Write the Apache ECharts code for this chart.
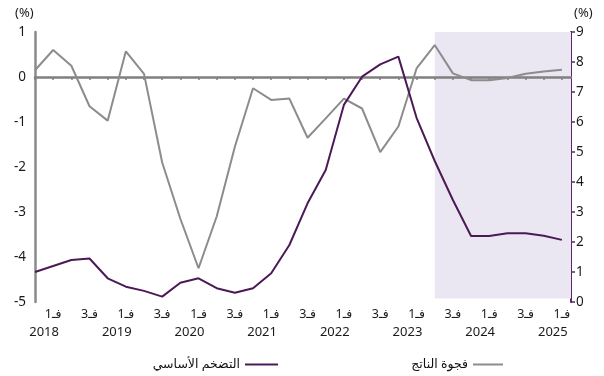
<!DOCTYPE html>
<html>
<head>
<meta charset="utf-8">
<script src="https://cdn.jsdelivr.net/npm/echarts@6/dist/echarts.min.js"></script>
<style>html,body{margin:0;padding:0;background:#fff}#c{width:604px;height:376px}</style>
</head>
<body>
<div id="c"></div>
<script>
const quarters = ['2017Q4','2018Q1','2018Q2','2018Q3','2018Q4','2019Q1','2019Q2','2019Q3','2019Q4','2020Q1','2020Q2','2020Q3','2020Q4','2021Q1','2021Q2','2021Q3','2021Q4','2022Q1','2022Q2','2022Q3','2022Q4','2023Q1','2023Q2','2023Q3','2023Q4','2024Q1','2024Q2','2024Q3','2024Q4','2025Q1'];
const outputGap = [0.15,0.6,0.25,-0.65,-0.97,0.57,0.07,-1.9,-3.15,-4.25,-3.1,-1.55,-0.25,-0.51,-0.48,-1.35,-0.92,-0.48,-0.70,-1.67,-1.1,0.19,0.71,0.08,-0.07,-0.07,-0.02,0.07,0.12,0.16];
const coreInflation = [1.0,1.2,1.4,1.45,0.79,0.51,0.37,0.18,0.64,0.79,0.46,0.31,0.46,0.96,1.9,3.29,4.4,6.57,7.51,7.92,8.18,6.14,4.7,3.4,2.2,2.2,2.29,2.29,2.21,2.07];
const qTickPos = [1,3,5,7,9,11,13,15,17,19,21,23,25,27,29];
const qTickText = ['فـ1','فـ3','فـ1','فـ3','فـ1','فـ3','فـ1','فـ3','فـ1','فـ3','فـ1','فـ3','فـ1','فـ3','فـ1'];
const yearPos = [0.5,4.5,8.5,12.5,16.5,20.5,24.5,28.5];
const yearText = ['2018','2019','2020','2021','2022','2023','2024','2025'];
const forecastStart = '2023Q2';
const nameCore = 'التضخم الأساسي';
const nameGap = 'فجوة الناتج';

const FONT = "'Noto Sans', 'DejaVu Sans', sans-serif";
const GREY = '#8c8c8c';
const PURPLE = '#4b1a56';
const xMax = quarters.length - 0.5;
const shadeStart = quarters.indexOf(forecastStart);

const chart = echarts.init(document.getElementById('c'), null, {renderer: 'canvas'});
const baseX = {type: 'value', min: 0, max: xMax, interval: 1, splitLine: {show: false}};
chart.setOption({
  animation: false,
  grid: {left: 35, right: 33, top: 32, bottom: 74},
  textStyle: {fontFamily: FONT},
  xAxis: [
    Object.assign({}, baseX, {
      z: 1.5,
      axisLine: {show: true, onZero: true, onZeroAxisIndex: 0, lineStyle: {color: '#808080', width: 2.5}},
      axisTick: {show: true, length: 3, inside: false, customValues: quarters.map((q, i) => i), lineStyle: {color: '#808080', width: 1.5}},
      axisLabel: {show: false}
    }),
    Object.assign({}, baseX, {
      position: 'bottom',
      axisLine: {show: false, onZero: false},
      axisTick: {show: false},
      axisLabel: {show: true, customValues: qTickPos, margin: 6, fontSize: 12.5, color: '#1a1a1a', fontFamily: FONT,
        formatter: v => { const k = qTickPos.indexOf(v); return k >= 0 ? qTickText[k] : ''; }}
    }),
    Object.assign({}, baseX, {
      position: 'bottom',
      axisLine: {show: false, onZero: false},
      axisTick: {show: false},
      axisLabel: {show: true, customValues: yearPos, margin: 24, fontSize: 13, color: '#1a1a1a', fontFamily: FONT,
        formatter: v => { const k = yearPos.indexOf(v); return k >= 0 ? yearText[k] : ''; }}
    })
  ],
  yAxis: [
    {type: 'value', position: 'left', min: -5, max: 1, interval: 1, splitLine: {show: false},
      axisLine: {show: true, onZero: false, lineStyle: {color: '#8a8a8a', width: 2.5}},
      axisTick: {show: false},
      axisLabel: {margin: 9, fontSize: 13.5, color: '#1a1a1a', fontFamily: FONT}},
    {type: 'value', position: 'right', min: 0, max: 9, interval: 1, splitLine: {show: false},
      axisLine: {show: true, onZero: false, lineStyle: {color: '#5b2a68', width: 2}},
      axisTick: {show: true, length: 4, inside: false, lineStyle: {color: '#5b2a68', width: 1.5}},
      axisLabel: {margin: 5, fontSize: 13.5, color: '#1a1a1a', fontFamily: FONT}}
  ],
  legend: [
    {data: [nameCore], right: 321, top: 353, align: 'right', icon: 'rect', itemWidth: 33, itemHeight: 2,
      textStyle: {fontSize: 12.5, color: '#111', fontFamily: FONT}},
    {data: [nameGap], right: 96, top: 353, align: 'right', icon: 'rect', itemWidth: 30, itemHeight: 2,
      textStyle: {fontSize: 12.5, color: '#111', fontFamily: FONT}}
  ],
  graphic: [
    {type: 'text', left: 15, top: 7, style: {text: '(%)', fontSize: 13, fill: '#1a1a1a', fontFamily: FONT}},
    {type: 'text', left: 574, top: 7, style: {text: '(%)', fontSize: 13, fill: '#1a1a1a', fontFamily: FONT}}
  ],
  series: [
    {type: 'line', name: 'shade', xAxisIndex: 0, yAxisIndex: 0, data: [], z: 1, silent: true, clip: false,
      markArea: {silent: true, itemStyle: {color: '#ebe7f2'},
        data: [[{xAxis: shadeStart, yAxis: 1.14}, {xAxis: xMax, yAxis: -4.92}]]}},
    {type: 'line', name: nameGap, xAxisIndex: 0, yAxisIndex: 0, z: 2,
      data: outputGap.map((v, i) => [i, v]), showSymbol: false, symbol: 'none',
      itemStyle: {color: GREY}, lineStyle: {color: GREY, width: 2}},
    {type: 'line', name: nameCore, xAxisIndex: 0, yAxisIndex: 1, z: 3,
      data: coreInflation.map((v, i) => [i, v]), showSymbol: false, symbol: 'none',
      itemStyle: {color: PURPLE}, lineStyle: {color: PURPLE, width: 2}}
  ]
});
</script>
</body>
</html>
